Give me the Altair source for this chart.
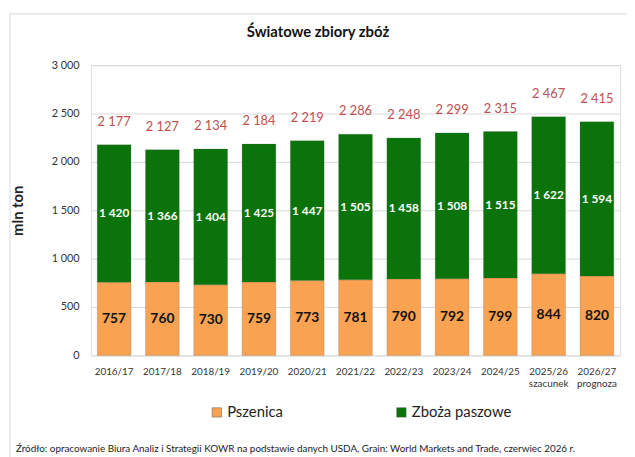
import altair as alt
import pandas as pd

categories = ["2016/17", "2017/18", "2018/19", "2019/20", "2020/21", "2021/22",
              "2022/23", "2023/24", "2024/25", "2025/26\nszacunek", "2026/27\nprognoza"]
wheat = [757, 760, 730, 759, 773, 781, 790, 792, 799, 844, 820]
coarse = [1420, 1366, 1404, 1425, 1447, 1505, 1458, 1508, 1515, 1622, 1594]
totals = [2177, 2127, 2134, 2184, 2219, 2286, 2248, 2299, 2315, 2467, 2415]
series = ["Pszenica", "Zboża paszowe"]
colors = ["#f9a352", "#0a730a"]

title_text = "Światowe zbiory zbóż"
y_title = "mln ton"
source_text = ("Źródło: opracowanie Biura Analiz i Strategii KOWR na podstawie danych USDA, "
               "Grain: World Markets and Trade, czerwiec 2026 r.")

FONT = "Lato"

def fmt(v):
    return f"{v:,}".replace(",", " ")

rows = []
for c, w, g in zip(categories, wheat, coarse):
    rows.append({"cat": c, "series": series[0], "value": w, "ord": 0, "label": fmt(w)})
    rows.append({"cat": c, "series": series[1], "value": g, "ord": 1, "label": fmt(g)})
df = pd.DataFrame(rows)
tot_df = pd.DataFrame({"cat": categories, "total": totals, "label": [fmt(t) for t in totals]})

x_enc = alt.X("cat:N", sort=categories, title=None,
              scale=alt.Scale(paddingInner=0.3, paddingOuter=0.13),
              axis=alt.Axis(labelExpr="split(datum.label, '\\n')", labelAngle=0,
                            labelFontSize=10, labelColor="#333333", labelPadding=11,
                            ticks=False, domain=False, labelFont=FONT))

y_scale = alt.Scale(domain=[0, 3000])

base = alt.Chart(df)

bars = base.mark_bar(stroke="#555555", strokeWidth=0.4, strokeOpacity=0.5).encode(
    x=x_enc,
    y=alt.Y("value:Q", stack="zero", scale=y_scale, title=y_title,
            axis=alt.Axis(values=[0, 500, 1000, 1500, 2000, 2500, 3000],
                          labelExpr="replace(format(datum.value, ','), ',', ' ')",
                          labelFontSize=11, labelColor="#333333", labelPadding=12,
                          ticks=False, domain=False, grid=True, gridColor="#d9d9d9",
                          titleFontSize=15, titleFontWeight="bold", titleColor="#222222",
                          titleFont=FONT, labelFont=FONT,
                          titleAngle=-90, titleX=-74, titleY=147,
                          titleAlign="center", titleBaseline="middle")),
    color=alt.Color("series:N", scale=alt.Scale(domain=series, range=colors),
                    legend=alt.Legend(title=None, orient="none", legendX=120, legendY=344,
                                      direction="horizontal", columns=2, columnPadding=112,
                                      symbolType="square", symbolSize=90,
                                      symbolStrokeColor="#555555", symbolStrokeWidth=0.5,
                                      labelFontSize=15, labelColor="#222222",
                                      labelFont=FONT, labelOffset=3)),
    order=alt.Order("ord:Q"),
)

stacked = base.transform_stack(
    stack="value", groupby=["cat"], as_=["v0", "v1"], sort=[alt.SortField("ord")]
).transform_calculate(mid="(datum.v0 + datum.v1) / 2")

wheat_labels = stacked.transform_filter(alt.datum.ord == 0).mark_text(
    fontSize=14, fontWeight="bold", color="#111111", font=FONT
).encode(x=alt.X("cat:N", sort=categories), y=alt.Y("mid:Q", scale=y_scale), text="label:N")

coarse_labels = stacked.transform_filter(alt.datum.ord == 1).mark_text(
    fontSize=12, fontWeight="bold", color="#ffffff", font=FONT
).encode(x=alt.X("cat:N", sort=categories), y=alt.Y("mid:Q", scale=y_scale), text="label:N")

total_labels = alt.Chart(tot_df).mark_text(
    fontSize=13, color="#c0504d", dy=-23, font=FONT
).encode(x=alt.X("cat:N", sort=categories), y=alt.Y("total:Q", scale=y_scale), text="label:N")

frame = alt.Chart(pd.DataFrame({"k": [0]})).mark_rect(
    fill=None, stroke="#d9d9d9", strokeWidth=1
).encode(x=alt.value(-82), x2=alt.value(600), y=alt.value(-52), y2=alt.value(460))

title = alt.Chart(pd.DataFrame({"t": [title_text]})).mark_text(
    fontSize=15, fontWeight="bold", color="#111111", font=FONT
).encode(text="t:N", x=alt.value(230), y=alt.value(-34))

source = alt.Chart(pd.DataFrame({"t": [source_text]})).mark_text(
    fontSize=10, color="#222222", align="left", font=FONT
).encode(text="t:N", x=alt.value(-76), y=alt.value(389))

chart = alt.layer(frame, bars, wheat_labels, coarse_labels, total_labels, title, source).properties(
    width=536, height=294,
    autosize=alt.AutoSizeParams(type="none"),
    padding={"left": 84, "top": 55, "right": 7, "bottom": 100},
).configure_view(stroke=None).configure(background="white")

chart.save("out.html", embed_options={"renderer": "svg", "actions": False})
